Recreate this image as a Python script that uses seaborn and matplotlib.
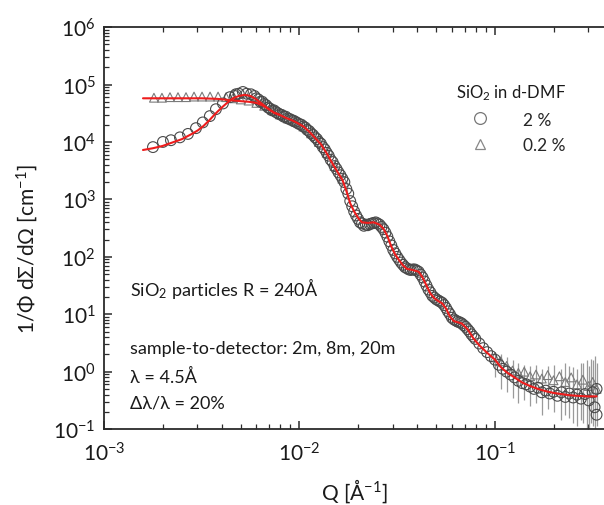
import numpy as np
import pandas as pd
import matplotlib
matplotlib.use("Agg")
import matplotlib.pyplot as plt
from matplotlib.lines import Line2D
from matplotlib.ticker import LogLocator, NullFormatter
import seaborn as sns

# ---------------- data (log10 units) ----------------
# 2 % sample (circles)
log_q_2pct = [-2.749, -2.698, -2.657, -2.611, -2.570, -2.529, -2.494, -2.458, -2.427,
              -2.391, -2.355, -2.325, -2.289, -2.248,
              -2.22, -2.20, -2.18, -2.16, -2.14, -2.12, -2.10, -2.08, -2.06, -2.04,
              -2.02, -2.00, -1.98, -1.96, -1.94, -1.92, -1.90, -1.88, -1.86, -1.84,
              -1.82, -1.80, -1.78, -1.76, -1.74, -1.72, -1.70, -1.68, -1.66, -1.64,
              -1.62, -1.60, -1.58, -1.56, -1.54, -1.52, -1.50, -1.48, -1.46, -1.44,
              -1.42, -1.40, -1.38, -1.36, -1.34, -1.32, -1.30, -1.28, -1.26, -1.24,
              -1.22, -1.20, -1.18, -1.16, -1.14, -1.12, -1.10, -1.08, -1.06, -1.04,
              -1.02, -1.00, -0.98, -0.96, -0.94, -0.92, -0.90, -0.88, -0.86, -0.84,
              -0.82, -0.80, -0.78, -0.76, -0.74, -0.72, -0.70, -0.68, -0.66, -0.64,
              -0.62, -0.60, -0.58, -0.56, -0.54, -0.52, -0.50, -0.49, -0.48, -0.48]
log_i_2pct = [3.91, 4.00, 4.03, 4.08, 4.14, 4.24, 4.34, 4.45, 4.57,
              4.67, 4.78, 4.83, 4.87, 4.83,
              4.76, 4.70, 4.66, 4.60, 4.55, 4.52, 4.48, 4.44, 4.41, 4.38,
              4.35, 4.31, 4.27, 4.21, 4.15, 4.08, 4.00, 3.91, 3.81, 3.69,
              3.58, 3.47, 3.36, 3.18, 2.97, 2.79, 2.66, 2.58, 2.56, 2.57,
              2.59, 2.58, 2.52, 2.42, 2.27, 2.12, 2.00, 1.90, 1.82, 1.78,
              1.78, 1.76, 1.69, 1.57, 1.43, 1.32, 1.26, 1.22, 1.16, 1.05,
              0.94, 0.89, 0.86, 0.81, 0.74, 0.65, 0.57, 0.49, 0.41, 0.34,
              0.27, 0.21, 0.12, 0.05, 0.00, -0.05, -0.10, -0.16, -0.20, -0.22,
              -0.26, -0.30, -0.28, -0.36, -0.33, -0.38, -0.35, -0.42, -0.36, -0.44,
              -0.38, -0.45, -0.40, -0.47, -0.39, -0.50, -0.36, -0.62, -0.30, -0.75]

# 2 % sample, overlapping second detector setting (circles)
log_q_2pct_b = [-2.33, -2.31, -2.27, -2.23, -2.21, -2.19, -2.17, -2.15, -2.13, -2.11,
                -2.09, -2.07, -2.05, -2.03, -2.01, -1.99, -1.97, -1.95, -1.93, -1.91,
                -1.89, -1.87, -1.85, -1.83, -1.81, -1.79, -1.77, -1.75, -1.73, -1.71,
                -1.69, -1.67, -1.65, -1.63, -1.61, -1.59, -1.57, -1.55, -1.53, -1.51,
                -1.49, -1.47, -1.45, -1.43, -1.41, -1.39, -1.37, -1.35, -1.33, -1.31,
                -1.29, -1.27, -1.25, -1.23, -1.21, -1.19, -1.17, -1.15, -1.13, -1.11]
log_i_2pct_b = [4.80, 4.84, 4.84, 4.80, 4.74, 4.70, 4.64, 4.58, 4.55, 4.50,
                4.47, 4.44, 4.40, 4.37, 4.33, 4.30, 4.25, 4.19, 4.12, 4.05,
                3.97, 3.87, 3.76, 3.65, 3.53, 3.42, 3.30, 3.10, 2.88, 2.72,
                2.60, 2.54, 2.55, 2.58, 2.60, 2.56, 2.48, 2.35, 2.20, 2.06,
                1.95, 1.86, 1.80, 1.77, 1.78, 1.74, 1.64, 1.50, 1.38, 1.29,
                1.24, 1.20, 1.11, 1.00, 0.91, 0.87, 0.84, 0.78, 0.70, 0.61]

# 0.2 % sample (triangles)
log_q_02pct = [-2.744, -2.703, -2.662, -2.621, -2.580, -2.539, -2.498, -2.457, -2.416,
               -2.375, -2.34, -2.30, -2.26, -2.22, -2.18, -2.14, -2.10, -2.06, -2.02,
               -1.98, -1.94, -1.90, -1.86, -1.82, -1.78,
               -1.00, -0.97, -0.94, -0.91, -0.88, -0.85, -0.82, -0.79, -0.76, -0.73,
               -0.70, -0.67, -0.64, -0.61, -0.58, -0.55, -0.52, -0.50, -0.48]
log_i_02pct = [4.77, 4.77, 4.78, 4.78, 4.78, 4.79, 4.79, 4.79, 4.79,
               4.78, 4.76, 4.74, 4.72, 4.68, 4.63, 4.56, 4.48, 4.41, 4.35,
               4.27, 4.15, 4.00, 3.81, 3.58, 3.36,
               0.25, 0.18, 0.10, 0.02, -0.02, 0.00, -0.08, -0.05, -0.12, -0.06,
               -0.15, -0.08, -0.18, -0.10, -0.22, -0.14, -0.25, -0.18, -0.30]

# vertical error bars (log10 of Q, lower end, upper end)
err_log_q = [-1.757, -1.00, -0.97, -0.94, -0.91, -0.88, -0.85, -0.82, -0.79, -0.76,
             -0.73, -0.70, -0.66, -0.64, -0.62, -0.60, -0.58, -0.56, -0.55, -0.53,
             -0.52, -0.51, -0.50, -0.49, -0.48]
err_log_lo = [3.10, -0.10, -0.30, -0.35, -0.45, -0.55, -0.50, -0.60, -0.55, -0.75,
              -0.65, -0.70, -0.85, -0.75, -0.80, -0.90, -0.95, -0.85, -0.90, -1.00,
              -1.00, -0.90, -0.95, -1.00, -0.95]
err_log_hi = [3.30, 0.35, 0.30, 0.25, 0.20, 0.15, 0.12, 0.10, 0.12, 0.05,
              0.10, 0.12, 0.05, 0.15, 0.10, 0.08, 0.05, 0.15, 0.15, 0.20,
              0.10, 0.22, 0.20, 0.27, 0.15]

# model fits (red lines)
fit_log_q_2pct = [-2.80, -2.75, -2.70, -2.65, -2.60, -2.55, -2.52, -2.49, -2.46, -2.43,
                  -2.40, -2.37, -2.34, -2.31, -2.28, -2.25, -2.22, -2.19, -2.16, -2.13,
                  -2.10, -2.07, -2.04, -2.01, -1.98, -1.95, -1.92, -1.89, -1.86, -1.83,
                  -1.80, -1.78, -1.76, -1.74, -1.72, -1.70, -1.68, -1.65, -1.62, -1.59,
                  -1.57, -1.55, -1.53, -1.51, -1.49, -1.47, -1.45, -1.42, -1.39, -1.37,
                  -1.35, -1.33, -1.31, -1.29, -1.27, -1.25, -1.23, -1.21, -1.19, -1.17,
                  -1.14, -1.11, -1.08, -1.04, -1.00, -0.97, -0.94, -0.90, -0.86, -0.82,
                  -0.78, -0.74, -0.70, -0.66, -0.62, -0.58, -0.53, -0.48]
fit_log_i_2pct = [3.86, 3.89, 3.93, 3.99, 4.05, 4.14, 4.20, 4.28, 4.38, 4.49,
                  4.59, 4.68, 4.76, 4.80, 4.82, 4.80, 4.74, 4.66, 4.58, 4.51,
                  4.47, 4.42, 4.38, 4.33, 4.27, 4.18, 4.07, 3.96, 3.80, 3.62,
                  3.45, 3.34, 3.15, 2.93, 2.79, 2.68, 2.60, 2.59, 2.60, 2.56,
                  2.49, 2.36, 2.18, 2.04, 1.94, 1.85, 1.79, 1.77, 1.74, 1.64,
                  1.50, 1.36, 1.28, 1.23, 1.19, 1.10, 0.96, 0.88, 0.86, 0.84,
                  0.74, 0.58, 0.46, 0.33, 0.21, 0.08, -0.01, -0.10, -0.19, -0.25,
                  -0.30, -0.34, -0.37, -0.39, -0.41, -0.42, -0.43, -0.43]
fit_log_q_02pct = [-2.80, -2.70, -2.60, -2.50, -2.42, -2.36, -2.30, -2.26, -2.22,
                   -2.19, -2.16, -2.13, -2.10]
fit_log_i_02pct = [4.76, 4.76, 4.76, 4.76, 4.75, 4.73, 4.71, 4.70, 4.68,
                   4.64, 4.58, 4.51, 4.47]

legend_title = "SiO$_2$ in d-DMF"
series_labels = ["2 %", "0.2 %"]
annotations = ["SiO$_2$ particles R = 240Å",
               "sample-to-detector: 2m, 8m, 20m",
               "λ = 4.5Å",
               "Δλ/λ = 20%"]

# ---------------- frames ----------------
pts2 = pd.DataFrame({"Q": np.power(10.0, log_q_2pct + log_q_2pct_b),
                     "I": np.power(10.0, log_i_2pct + log_i_2pct_b)})
pts02 = pd.DataFrame({"Q": np.power(10.0, log_q_02pct), "I": np.power(10.0, log_i_02pct)})
fit2 = pd.DataFrame({"Q": np.power(10.0, fit_log_q_2pct), "I": np.power(10.0, fit_log_i_2pct)})
fit02 = pd.DataFrame({"Q": np.power(10.0, fit_log_q_02pct), "I": np.power(10.0, fit_log_i_02pct)})

# ---------------- style ----------------
sns.set_theme(style="white")
plt.rcParams["font.family"] = ["Lato", "DejaVu Sans"]
plt.rcParams["mathtext.default"] = "regular"
plt.rcParams["axes.unicode_minus"] = False

fig = plt.figure(figsize=(6.04, 5.06), dpi=100)
ax = fig.add_axes([0.172, 0.150, 0.828, 0.7945])

ink = "#2b2b2b"

# error bars
ax.vlines(np.power(10.0, err_log_q), np.power(10.0, err_log_lo), np.power(10.0, err_log_hi),
          color="#9a9a9a", linewidth=0.9, zorder=1)

sns.scatterplot(data=pts02, x="Q", y="I", marker="^", s=40, facecolor="none",
                edgecolor="#7a7a7a", linewidth=0.8, ax=ax, zorder=2, legend=False)
sns.scatterplot(data=pts2, x="Q", y="I", marker="o", s=60, facecolor="none",
                edgecolor="#4a4a4a", linewidth=0.8, ax=ax, zorder=3, legend=False)
sns.lineplot(data=fit02, x="Q", y="I", color="#ee1c1c", linewidth=1.5, sort=False,
             ax=ax, zorder=4, legend=False)
sns.lineplot(data=fit2, x="Q", y="I", color="#ee1c1c", linewidth=1.5, sort=False,
             ax=ax, zorder=4, legend=False)

ax.set_xscale("log")
ax.set_yscale("log")
ax.set_xlim(1e-3, 10 ** -0.442)
ax.set_ylim(1e-1, 1e6)

ax.xaxis.set_major_locator(LogLocator(base=10, numticks=10))
ax.xaxis.set_minor_locator(LogLocator(base=10, subs=np.arange(2, 10), numticks=10))
ax.yaxis.set_major_locator(LogLocator(base=10, numticks=10))
ax.yaxis.set_minor_locator(LogLocator(base=10, subs=np.arange(2, 10), numticks=10))
ax.xaxis.set_minor_formatter(NullFormatter())
ax.yaxis.set_minor_formatter(NullFormatter())

for s in ["left", "bottom", "top"]:
    ax.spines[s].set_color(ink)
    ax.spines[s].set_linewidth(1.3)
ax.spines["right"].set_visible(False)

ax.tick_params(which="both", direction="in", top=True, bottom=True, left=True,
               right=False, color=ink)
ax.tick_params(which="major", length=6, width=1.1, labelsize=15, labelcolor="#1a1a1a")
ax.tick_params(which="minor", length=3.5, width=0.9)
ax.tick_params(axis="x", which="major", pad=9)
ax.tick_params(axis="y", which="major", pad=6)

ax.set_xlabel("Q [Å$^{-1}$]", fontsize=15, color="#1a1a1a")
ax.set_ylabel("1/Φ dΣ/dΩ [cm$^{-1}$]", fontsize=15, color="#1a1a1a")
ax.yaxis.set_label_coords(-0.128, 0.45)
ax.xaxis.set_label_coords(0.5, -0.118)

ys = [0.353, 0.201, 0.132, 0.065]
for txt, y in zip(annotations, ys):
    ax.text(0.052, y, txt, transform=ax.transAxes, fontsize=13, color="#1a1a1a",
            va="center", ha="left")

handles = [Line2D([], [], linestyle="none", marker="o", markersize=8.5,
                  markerfacecolor="none", markeredgecolor="#777777", markeredgewidth=0.9),
           Line2D([], [], linestyle="none", marker="^", markersize=7.5,
                  markerfacecolor="none", markeredgecolor="#888888", markeredgewidth=0.9)]
leg = ax.legend(handles, series_labels, title=legend_title, frameon=False,
                loc="upper left", bbox_to_anchor=(0.69, 0.88), fontsize=12.5,
                title_fontsize=12, handlelength=1.0, handletextpad=2.0,
                labelspacing=0.55, borderaxespad=0.0)
leg.get_title().set_color("#1a1a1a")
leg._legend_box.align = "right"

fig.savefig("out.png", dpi=100)
